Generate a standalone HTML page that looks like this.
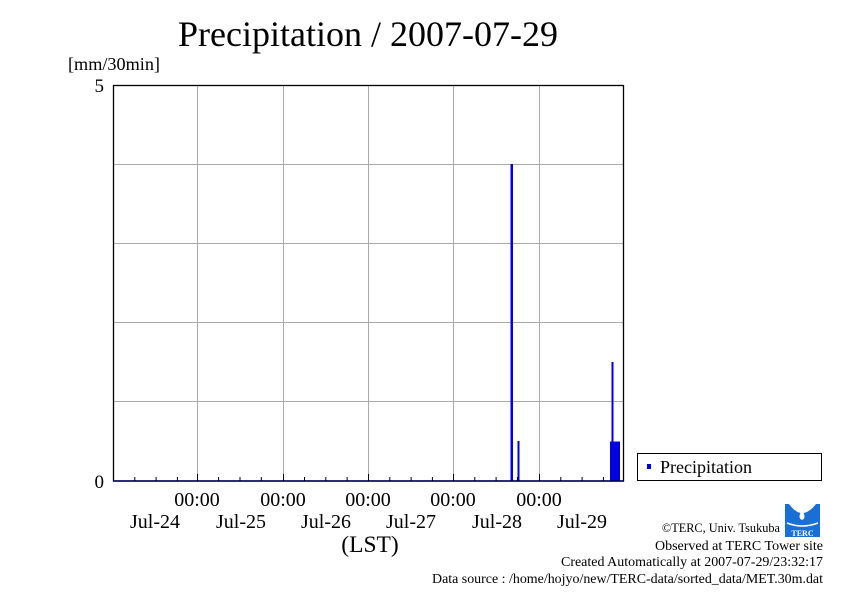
<!DOCTYPE html>
<html><head><meta charset="utf-8"><style>body{margin:0;background:#fff}svg{display:block}text{font-family:"Liberation Serif",serif;fill:#000}</style></head><body>
<svg width="842" height="595" viewBox="0 0 842 595" xmlns="http://www.w3.org/2000/svg">
<rect width="842" height="595" fill="#fff"/>
<text x="368" y="46" font-size="36" text-anchor="middle" textLength="380" lengthAdjust="spacingAndGlyphs">Precipitation / 2007-07-29</text>
<text x="68" y="70" font-size="18" textLength="92" lengthAdjust="spacingAndGlyphs">[mm/30min]</text>
<g stroke="#aaa" stroke-width="1">
<line x1="113" y1="164.5" x2="624" y2="164.5"/><line x1="113" y1="243.5" x2="624" y2="243.5"/>
<line x1="113" y1="322.5" x2="624" y2="322.5"/><line x1="113" y1="401.5" x2="624" y2="401.5"/>
<line x1="197.5" y1="85" x2="197.5" y2="481"/><line x1="283.5" y1="85" x2="283.5" y2="481"/>
<line x1="368.5" y1="85" x2="368.5" y2="481"/><line x1="453.5" y1="85" x2="453.5" y2="481"/>
<line x1="539.5" y1="85" x2="539.5" y2="481"/>
</g>
<g fill="#0000e0">
<rect x="510.5" y="164" width="2.5" height="317"/>
<rect x="517.5" y="441" width="2" height="40"/>
<rect x="611.5" y="362" width="2" height="119"/>
<rect x="610" y="441.5" width="10" height="39.5"/>
</g>
<rect x="113.5" y="85.5" width="510" height="395.5" fill="none" stroke="#000" stroke-width="1.3"/>
<line x1="113" y1="481" x2="624" y2="481" stroke="#000066" stroke-width="1.5"/>
<g stroke="#000" stroke-width="1">
<line x1="134.8" y1="481" x2="134.8" y2="477"/><line x1="156.1" y1="481" x2="156.1" y2="477"/><line x1="177.4" y1="481" x2="177.4" y2="477"/>
<line x1="218.6" y1="481" x2="218.6" y2="477"/><line x1="240" y1="481" x2="240" y2="477"/><line x1="261.3" y1="481" x2="261.3" y2="477"/>
<line x1="304.5" y1="481" x2="304.5" y2="477"/><line x1="325.8" y1="481" x2="325.8" y2="477"/><line x1="347.1" y1="481" x2="347.1" y2="477"/>
<line x1="389.8" y1="481" x2="389.8" y2="477"/><line x1="411.1" y1="481" x2="411.1" y2="477"/><line x1="432.4" y1="481" x2="432.4" y2="477"/>
<line x1="474.8" y1="481" x2="474.8" y2="477"/><line x1="496.1" y1="481" x2="496.1" y2="477"/><line x1="517.4" y1="481" x2="517.4" y2="477"/>
<line x1="560.8" y1="481" x2="560.8" y2="477"/><line x1="582.1" y1="481" x2="582.1" y2="477"/><line x1="603.4" y1="481" x2="603.4" y2="477"/>
<line x1="197.5" y1="481" x2="197.5" y2="474"/><line x1="283.5" y1="481" x2="283.5" y2="474"/><line x1="368.5" y1="481" x2="368.5" y2="474"/><line x1="453.5" y1="481" x2="453.5" y2="474"/><line x1="539.5" y1="481" x2="539.5" y2="474"/>
</g>
<text x="104" y="92" font-size="19" text-anchor="end">5</text>
<text x="104" y="488" font-size="19" text-anchor="end">0</text>
<g font-size="20" text-anchor="middle">
<text x="197" y="506">00:00</text><text x="283" y="506">00:00</text><text x="368" y="506">00:00</text><text x="453" y="506">00:00</text><text x="539" y="506">00:00</text>
<text x="155" y="528">Jul-24</text><text x="241" y="528">Jul-25</text><text x="326" y="528">Jul-26</text><text x="411" y="528">Jul-27</text><text x="497" y="528">Jul-28</text><text x="582" y="528">Jul-29</text>
</g>
<text x="370" y="552" font-size="23.5" text-anchor="middle">(LST)</text>
<rect x="637.5" y="453.5" width="184" height="27" fill="#fff" stroke="#000" stroke-width="1"/>
<rect x="647" y="464" width="4" height="5" fill="#0000e0"/>
<text x="660" y="473" font-size="17.5" textLength="92" lengthAdjust="spacingAndGlyphs">Precipitation</text>
<g text-anchor="end">
<text x="780" y="532" font-size="12.3">©TERC, Univ. Tsukuba</text>
<text x="823" y="550" font-size="14" textLength="168" lengthAdjust="spacingAndGlyphs">Observed at TERC Tower site</text>
<text x="823" y="566" font-size="14" textLength="262" lengthAdjust="spacingAndGlyphs">Created Automatically at 2007-07-29/23:32:17</text>
<text x="823" y="583" font-size="14" textLength="391" lengthAdjust="spacingAndGlyphs">Data source : /home/hojyo/new/TERC-data/sorted_data/MET.30m.dat</text>
</g>
<g>
<path d="M785 504 H820 V537 H785 Z" fill="#1a6fd6"/>
<path d="M789 504 Q802 522 816 504 Z" fill="#fff"/>
<path d="M802 510 Q797 518 802 520 Q807 518 802 510Z" fill="#fff"/>
<path d="M787 523 Q802 529 818 523" stroke="#fff" stroke-width="1.5" fill="none"/>
<text x="802.5" y="536" font-size="8" text-anchor="middle" style="fill:#fff" font-weight="bold">TERC</text>
</g>
</svg>
</body></html>
